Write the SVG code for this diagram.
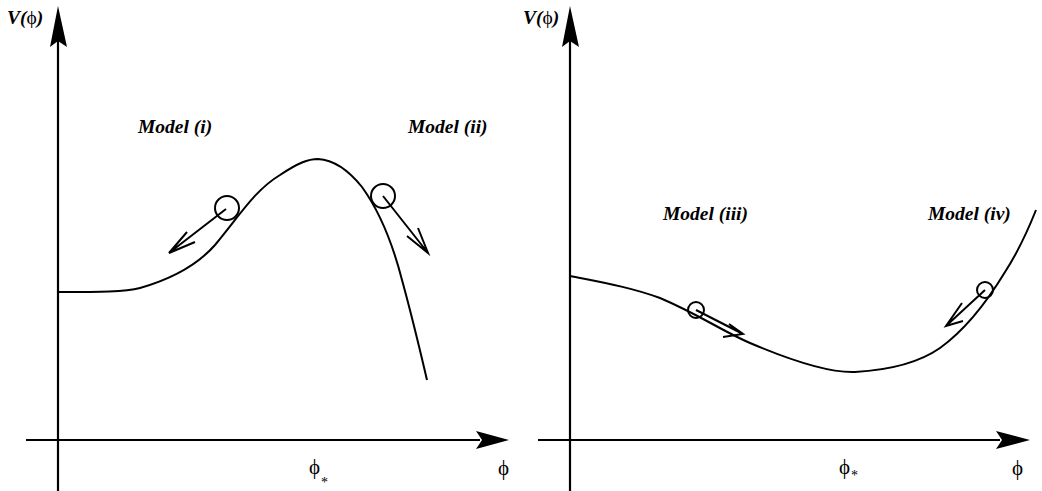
<svg xmlns="http://www.w3.org/2000/svg" width="1042" height="491" viewBox="0 0 1042 491">
<style>
.ax{stroke:#000;stroke-width:2.2;fill:none}
.cv{stroke:#000;stroke-width:2;fill:none}
.head{fill:#000;stroke:none}
.lab{font-family:"Liberation Serif",serif;font-weight:bold;font-style:italic;font-size:19.5px;fill:#000}
.phi{font-family:"Liberation Serif",serif;font-size:21px;fill:#000}
.sub{font-family:"Liberation Serif",serif;font-size:14px;fill:#000}
</style>
<rect width="1042" height="491" fill="#fff"/>
<g id="axes">
<path class="ax" d="M58,491 V40"/>
<path class="head" d="M58,6 L67,47 L58,41 L50,47 Z"/>
<path class="ax" d="M26,440 H480"/>
<path class="head" d="M509,440 L476,449 L482,440 L476,431 Z"/>
<path class="ax" d="M570,491 V40"/>
<path class="head" d="M570,6 L579,47 L570,41 L562,47 Z"/>
<path class="ax" d="M538,440 H1000"/>
<path class="head" d="M1030,440 L996,449 L1002,440 L996,431 Z"/>
</g>
<g id="curves">
<path class="cv" d="M58,292 C100,292 125,292 140,288 C175,278 200,262 215,245 C240,215 255,190 280,175 C298,163 308,159 318,159 C335,160 350,172 362,187 C380,212 393,245 402,280 C413,320 420,350 427,380"/>
<path class="cv" d="M570,276 C600,282 630,287 660,298 C700,315 720,330 750,343 C790,360 830,373 855,372 C890,370 920,362 940,348 C965,330 985,305 1005,272 C1018,252 1028,230 1036,210"/>
</g>
<g id="model-i-ball">
<circle class="cv" cx="227" cy="208" r="12"/>
<path class="cv" d="M226,209 L169,253 M187,232 L169,253 L195,242"/>
</g>
<g id="model-ii-ball">
<circle class="cv" cx="383" cy="196" r="12"/>
<path class="cv" d="M383,196 L428,253 M418,228 L428,253 L407,236"/>
</g>
<g id="model-iii-ball">
<circle class="cv" cx="696" cy="310" r="8"/>
<path class="cv" d="M696,310 L743,334 M729,324 L743,334 L723,337"/>
</g>
<g id="model-iv-ball">
<circle class="cv" cx="985" cy="290" r="8"/>
<path class="cv" d="M985,290 L946,326 M962,303 L946,326 L963,321"/>
</g>
<g id="labels">
<text class="lab" x="7" y="24">V(<tspan font-style="normal" font-weight="normal">ϕ</tspan>)</text>
<text class="lab" x="523" y="24">V(<tspan font-style="normal" font-weight="normal">ϕ</tspan>)</text>
<text class="lab" x="138" y="133">Model (i)</text>
<text class="lab" x="408" y="133">Model (ii)</text>
<text class="lab" x="663" y="220">Model (iii)</text>
<text class="lab" x="928" y="220">Model (iv)</text>
<text class="phi" x="309" y="474">ϕ</text><text class="sub" x="321" y="487">*</text>
<text class="phi" x="498" y="475">ϕ</text>
<text class="phi" x="839" y="474">ϕ</text><text class="sub" x="851" y="480">*</text>
<text class="phi" x="1012" y="475">ϕ</text>
</g>
</svg>
